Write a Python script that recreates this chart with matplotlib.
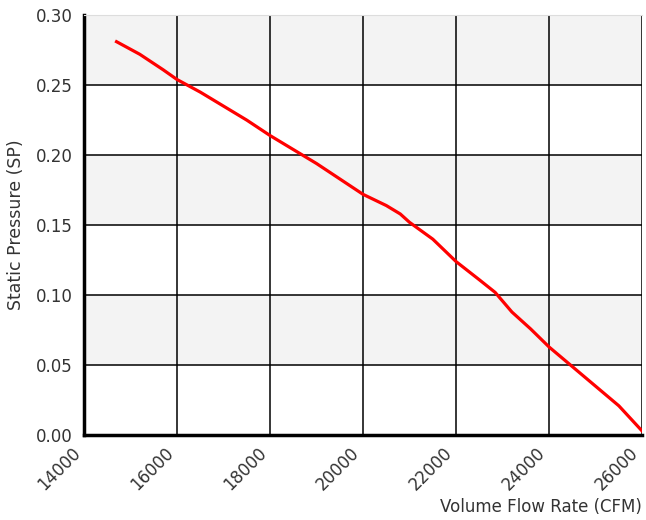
import matplotlib
matplotlib.use("Agg")
import matplotlib.pyplot as plt

flow_cfm = [14700, 15200, 15700, 16000, 16500, 17000, 17500, 18000, 18500,
            19000, 19500, 20000, 20500, 20800, 21000, 21500, 22000, 22500,
            22840, 23200, 23600, 24000, 24500, 25000, 25500, 26000]
static_sp = [0.281, 0.272, 0.261, 0.254, 0.245, 0.235, 0.225, 0.214, 0.204,
             0.194, 0.183, 0.172, 0.164, 0.158, 0.152, 0.140, 0.124, 0.111,
             0.102, 0.088, 0.076, 0.063, 0.049, 0.035, 0.021, 0.003]

x_ticks = [14000, 16000, 18000, 20000, 22000, 24000, 26000]
y_ticks = [0.00, 0.05, 0.10, 0.15, 0.20, 0.25, 0.30]

fig = plt.figure(figsize=(6.46, 5.2), dpi=100)
ax = fig.add_axes([0.130, 0.163, 0.864, 0.808])

# alternating background bands
for i in range(len(y_ticks) - 1):
    if i % 2 == 1:
        ax.axhspan(y_ticks[i], y_ticks[i + 1], color="#f3f3f3", zorder=0, lw=0)

ax.plot(flow_cfm, static_sp, color="red", lw=2.3, zorder=3)

ax.set_xlim(14000, 26000)
ax.set_ylim(0, 0.30)
ax.set_xticks(x_ticks)
ax.set_yticks(y_ticks)
ax.set_yticklabels([f"{v:.2f}" for v in y_ticks])
ax.grid(True, color="black", lw=1.1, zorder=1)
ax.set_axisbelow(True)

ax.tick_params(axis="y", length=0, labelsize=12, colors="#333333", pad=8)
ax.tick_params(axis="x", length=0, labelsize=12, colors="#333333", pad=6)
for lbl in ax.get_xticklabels():
    lbl.set_rotation(45)
    lbl.set_ha("right")
    lbl.set_va("top")

ax.spines["left"].set_linewidth(2.5)
ax.spines["bottom"].set_linewidth(2.5)
ax.spines["right"].set_visible(False)
ax.spines["top"].set_color("#dddddd")

ax.set_ylabel("Static Pressure (SP)", fontsize=12.5, color="#333333", labelpad=8)
ax.text(1.0, -0.150, "Volume Flow Rate (CFM)", transform=ax.transAxes,
        ha="right", va="top", fontsize=12, color="#333333")

fig.savefig("out.png", dpi=100)
